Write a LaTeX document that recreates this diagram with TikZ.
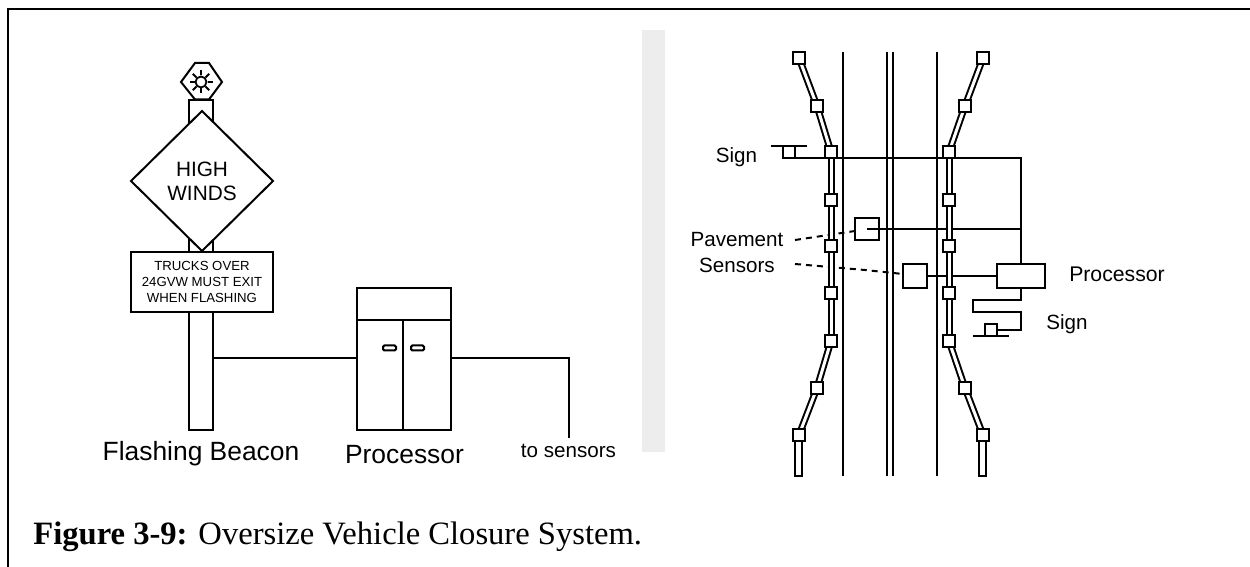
\documentclass[tikz,border=0pt]{standalone}
\usepackage{fontspec}
\setmainfont{Liberation Sans}
\newfontfamily\capfont{Liberation Serif}
\usetikzlibrary{shapes.geometric}
\tikzset{
    wire/.style={line width=1pt},
    dashwire/.style={line width=1pt, dash pattern=on 3pt off 2.5pt},
    railline/.style={line width=1pt, double=white, double distance=1.5pt},
    boxnode/.style={draw, line width=1pt, fill=white, rectangle, inner sep=0pt, outer sep=0pt},
    railnode/.style={boxnode, minimum width=6pt, minimum height=6pt},
    handlenode/.style={boxnode, rounded corners=0.7pt, minimum width=6.5pt, minimum height=2.5pt},
    bigtext/.style={font=\fontsize{13.2}{15}\selectfont, inner sep=0pt, anchor=base},
    smalltext/.style={font=\fontsize{10.3}{12}\selectfont, inner sep=0pt, anchor=base}
}
\begin{document}
\begin{tikzpicture}[x=0.5pt, y=-0.5pt]
    \useasboundingbox (0, 0) rectangle (1250, 567);

    % 1. Frame and grey strip
    \coordinate (frameA) at (8, 567);
    \coordinate (frameB) at (8, 9);
    \coordinate (frameC) at (1250, 9);
    \draw[wire] (frameA) -- (frameB) -- (frameC);
    \fill[black!7] (642, 30) rectangle (665, 452);

    % 2. Beacon post with its signs
    \node[boxnode, minimum width=12pt, minimum height=165pt] (post) at (201, 265) {};
    \draw[wire, fill=white] (195, 63) -- (209, 63) -- (222, 82) -- (209, 99.5) -- (195, 99.5) -- (181, 82) -- cycle;
    \node[boxnode, circle, minimum size=5.5pt, line width=0.9pt] (lamp) at (201, 82) {};
    \foreach \ang in {0, 45, ..., 315} {
        \draw[line width=0.9pt] (lamp.center) ++(\ang:-6.5) -- ++(\ang:-5);
    }
    \node[boxnode, diamond, aspect=1, minimum width=71pt, minimum height=70pt, align=center,
          font=\fontsize{10.4}{12}\selectfont] (windsign) at (202, 181) {HIGH\\WINDS};
    \node[boxnode, minimum width=71pt, minimum height=30pt, align=center,
          font=\fontsize{6.6}{8}\selectfont] (trucksign) at (202, 282) {TRUCKS OVER\\24GVW MUST EXIT\\WHEN FLASHING};

    % 3. Cabinet
    \node[boxnode, minimum width=47pt, minimum height=16pt] (cabtop) at (404, 304) {};
    \node[boxnode, minimum width=23pt, minimum height=55pt] (doorl) at (380, 375) {};
    \node[boxnode, minimum width=24pt, minimum height=55pt] (doorr) at (427, 375) {};
    \node[handlenode] (handlel) at (389.5, 348) {};
    \node[handlenode] (handler) at (417.5, 348) {};

    % 4. Cable of the cabinet
    \coordinate (cablein) at (213, 358);
    \coordinate (cableout) at (451, 358);
    \coordinate (cableend) at (569, 438);
    \draw[wire] (cablein) -- (doorl.west |- cablein);
    \draw[wire] (cableout) -| (cableend);

    % 5. Labels on the left
    \node[bigtext] (beaconlabel) at (201, 460) {Flashing Beacon};
    \node[bigtext] (proclabel) at (404.5, 463) {Processor};
    \node[smalltext] (tolabel) at (568.5, 458) {to sensors};

    % 6. Road lines
    \foreach \n/\px in {a/843, b/887, c/893, d/937} {
        \coordinate (road\n top) at (\px, 52);
        \coordinate (road\n bot) at (\px, 476);
        \draw[wire] (road\n top) -- (road\n bot);
    }

    % 7. Boxes and wires of the plan
    \node[boxnode, minimum width=6pt, minimum height=6pt] (signa) at (789, 152) {};
    \coordinate (signabar) at (771, 146);
    \coordinate (signaend) at (807, 146);
    \draw[wire] (signabar) -- (signaend);
    \node[boxnode, minimum width=12pt, minimum height=11pt] (sensora) at (867, 229) {};
    \node[boxnode, minimum width=12pt, minimum height=12pt] (sensorb) at (915, 276) {};
    \node[boxnode, minimum width=24pt, minimum height=12pt] (procbox) at (1021, 276) {};
    \node[boxnode, minimum width=6pt, minimum height=6pt] (signb) at (991, 330) {};
    \coordinate (signbbar) at (973, 336);
    \coordinate (signbend) at (1009, 336);
    \draw[wire] (signbbar) -- (signbend);

    \coordinate (joina) at (1021, 158);
    \coordinate (joinb) at (1021, 229);
    \draw[wire] (signa.south west) -- (joina) -- (procbox.north);
    \draw[wire] (sensora.center) -- (joinb);
    \draw[wire] (sensorb.east) -- (procbox.west);
    \coordinate (loopa) at (973, 300);
    \coordinate (loopb) at (973, 312);
    \coordinate (loopc) at (1021, 312);
    \coordinate (loopd) at (1021, 330);
    \draw[wire] (procbox.south) |- (loopa) -- (loopb) -- (loopc) -- (loopd) -- (signb.east);

    % 8. Dashed leads of the sensors
    \coordinate (leada) at (795, 240);
    \coordinate (leadb) at (795, 264);
    \coordinate (leadc) at (865, 270);
    \draw[dashwire] (leada) -- (sensora.west |- 0, 231);
    \draw[dashwire] (leadb) -- (leadc) -- (sensorb.west |- 0, 274);

    % 9. Rails on both sides
    \foreach \i/\lx/\rx/\py in {1/799/983/58, 2/817/965/106, 3/831/949/152, 4/831/949/200,
        5/831/949/246, 6/831/949/293, 7/831/949/341, 8/817/965/388, 9/799/983/435} {
        \coordinate (raill\i) at (\lx, \py);
        \coordinate (railr\i) at (\rx, \py);
    }
    \foreach \i [remember=\i as \j (initially 1)] in {2, ..., 9} {
        \draw[railline] (raill\j) -- (raill\i);
        \draw[railline] (railr\j) -- (railr\i);
    }
    \draw[wire, fill=white] (795, 435) rectangle (801.5, 476);
    \draw[wire, fill=white] (979, 435) rectangle (985.5, 476);
    \foreach \i in {1, ..., 9} {
        \node[railnode] (squarel\i) at (raill\i) {};
        \node[railnode] (squarer\i) at (railr\i) {};
    }

    % 10. Labels of the plan
    \node[smalltext] (signlabela) at (736.5, 163) {Sign};
    \node[inner sep=0pt, align=center, font=\fontsize{10.3}{13}\selectfont] (sensorlabel) at (737, 253) {Pavement\\Sensors};
    \node[smalltext, font=\fontsize{10.6}{12}\selectfont] (proclabelb) at (1117, 282) {Processor};
    \node[smalltext] (signlabelb) at (1067, 329) {Sign};

    % 11. Caption
    \node[anchor=base west, inner sep=0pt, font=\capfont\fontsize{16.3}{18}\selectfont] (caption) at (33, 544)
        {\textbf{Figure 3-9:} Oversize Vehicle Closure System.};
\end{tikzpicture}
\end{document}
